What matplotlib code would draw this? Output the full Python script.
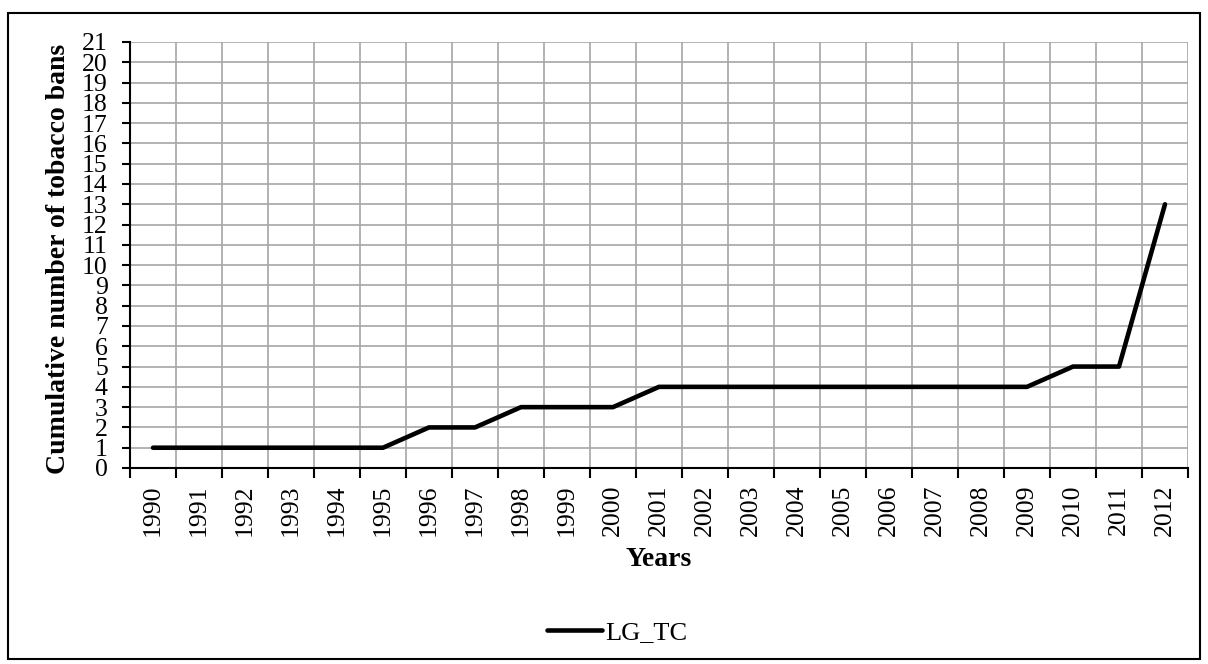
import numpy as np
import matplotlib.pyplot as plt
from matplotlib.patches import Rectangle

# -------------------------------------------------------
# Data
# -------------------------------------------------------

years = [str(y) for y in range(1990, 2013)]

lg_tc = [1, 1, 1, 1, 1, 1, 2, 2, 3, 3, 3, 4, 4, 4, 4, 4, 4, 4, 4, 4, 5, 5, 13]

y_ticks = list(range(0, 22))

# -------------------------------------------------------
# Figure
# -------------------------------------------------------

plt.rcParams["font.family"] = ["Liberation Serif", "DejaVu Serif"]

W, H = 1208, 664

fig = plt.figure(figsize=(W / 100, H / 100), dpi=100)

fig.patches.append(
    Rectangle(
        (8 / W, 1 - 659 / H),
        1192 / W,
        646 / H,
        transform=fig.transFigure,
        fill=False,
        edgecolor="black",
        linewidth=1.5,
    )
)

ax = fig.add_axes([130 / W, 1 - 468 / H, 1058 / W, 426 / H])

x = np.arange(len(years))

line, = ax.plot(
    x,
    lg_tc,
    color="black",
    linewidth=3.3,
    solid_capstyle="round",
    solid_joinstyle="round",
    label="LG_TC",
)

ax.set_xlim(-0.5, len(years) - 0.5)
ax.set_ylim(0, 21)

# ticks and grid on category boundaries, labels at category centres
ax.set_xticks(np.arange(len(years) + 1) - 0.5)
ax.set_xticklabels([])
ax.set_xticks(x, minor=True)
ax.set_xticklabels(years, minor=True, rotation=90, fontsize=18.5)
ax.tick_params(axis="x", which="minor", length=0, pad=12)
ax.tick_params(axis="x", which="major", length=7, width=1.5, direction="out")

ax.set_yticks(y_ticks)
ax.set_yticklabels([str(v) for v in y_ticks], fontsize=18.5)
ax.tick_params(axis="y", length=6, width=1.5, direction="out", pad=10)

ax.grid(True, which="major", color="#a6a6a6", linewidth=1.2)
ax.set_axisbelow(True)

for side in ["top", "right"]:
    ax.spines[side].set_visible(False)

ax.spines["left"].set_linewidth(1.5)
ax.spines["bottom"].set_linewidth(1.5)

ax.set_xlabel("Years", fontsize=20, fontweight="bold")
ax.xaxis.set_label_coords(0.5, (468 - 560) / 426)
ax.xaxis.label.set_va("center")

ax.set_ylabel("Cumulative number of tobacco bans", fontsize=20, fontweight="bold")
ax.yaxis.set_label_coords((59 - 130) / 1058, 0.49)
ax.yaxis.label.set_va("center")

fig.legend(
    handles=[line],
    loc="center",
    bbox_to_anchor=(617 / W, 1 - 632 / H),
    frameon=False,
    fontsize=19,
    handlelength=2.1,
    handletextpad=0.1,
)

plt.savefig("out.png", dpi=100)
plt.close()
